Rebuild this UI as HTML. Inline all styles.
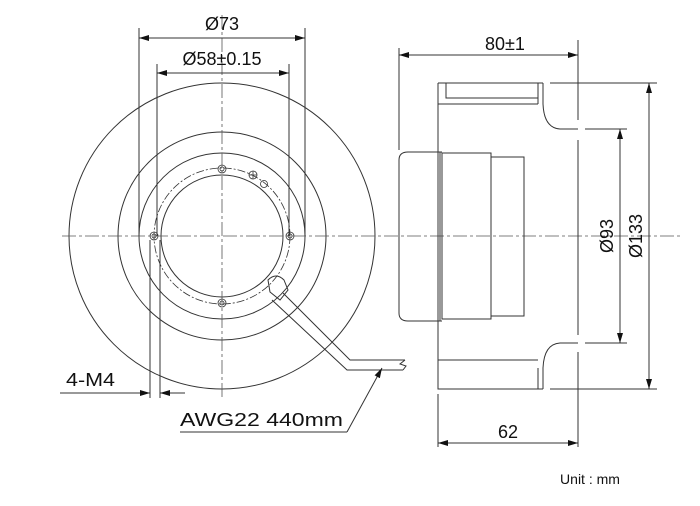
<!DOCTYPE html>
<html><head><meta charset="utf-8"><style>
html,body{margin:0;padding:0;background:#fff;}
svg{display:block;}
text{font-family:"Liberation Sans",sans-serif;fill:#111;}
</style></head><body>
<svg width="700" height="506" viewBox="0 0 700 506" xmlns="http://www.w3.org/2000/svg">
<defs>
<marker id="a" viewBox="0 0 10 6" refX="10" refY="3" markerWidth="10" markerHeight="6" orient="auto-start-reverse" markerUnits="userSpaceOnUse"><path d="M0,0 L10,3 L0,6 z" fill="#111"/></marker>
</defs>
<g fill="none" stroke="#333" stroke-width="1">
<circle cx="222" cy="236" r="153"/>
<circle cx="222" cy="236" r="104"/>
<circle cx="222" cy="236" r="83"/>
<circle cx="222" cy="236" r="68" stroke-dasharray="8,2,2,2" stroke-width="0.8"/>
<circle cx="222" cy="236" r="61"/>
<g stroke-width="0.8">
<circle cx="154" cy="236" r="4"/><circle cx="154" cy="236" r="2"/>
<circle cx="290" cy="236" r="4"/><circle cx="290" cy="236" r="2"/>
<circle cx="222" cy="169" r="4"/><circle cx="222" cy="169" r="2"/>
<circle cx="222" cy="303" r="4"/><circle cx="222" cy="303" r="2"/>
<circle cx="253" cy="175" r="4"/><circle cx="264" cy="184" r="3.5"/>
</g>
<path d="M253,171 V179 M249,175 H257" stroke-width="0.8"/>
<line x1="62" y1="236" x2="680" y2="236" stroke="#555" stroke-width="0.8" stroke-dasharray="14,3,3,3"/>
<line x1="222" y1="15" x2="222" y2="398" stroke="#555" stroke-width="0.8" stroke-dasharray="14,3,3,3"/>
<line x1="139" y1="28" x2="139" y2="236"/>
<line x1="305" y1="28" x2="305" y2="236"/>
<line x1="157" y1="64" x2="157" y2="236"/>
<line x1="289" y1="64" x2="289" y2="236"/>
<line x1="139" y1="38" x2="305" y2="38" marker-start="url(#a)" marker-end="url(#a)"/>
<line x1="157" y1="73" x2="289" y2="73" marker-start="url(#a)" marker-end="url(#a)"/>
<line x1="150" y1="240" x2="150" y2="398"/>
<line x1="160" y1="240" x2="160" y2="398"/>
<line x1="60" y1="393" x2="150" y2="393" marker-end="url(#a)"/>
<line x1="185" y1="393" x2="160" y2="393" marker-end="url(#a)"/>
<path d="M268,280 Q276,272 284,280 L288,290 L280,300 L270,292 Z"/>
<path d="M283,293 L350,360 L405,360 M272,300 L347,370 L403,370 M405,360 L400,364 L406,366 L403,370"/>
<path d="M347,432 L382,368" marker-end="url(#a)"/>
<line x1="180" y1="432" x2="347" y2="432"/>
<path d="M438,83 H543 M438,83 V389 H543 M438,104 H538 M446,83 V98 H538 V83"/>
<path d="M543,83 V104 Q544,128 560,129 H578 M538,83 V104"/>
<path d="M543,389 V368 Q544,344 560,343 H578 M538,389 V368 M438,360 H538"/>
<line x1="578" y1="40" x2="578" y2="120"/>
<line x1="578" y1="140" x2="578" y2="335"/>
<line x1="578" y1="352" x2="578" y2="447"/>
<line x1="438" y1="394" x2="438" y2="447"/>
<path d="M442,152 H408 Q399,152 399,160 V313 Q399,321 408,321 H442"/>
<line x1="440" y1="152" x2="440" y2="321"/>
<rect x="442" y="153" width="49" height="166"/>
<path d="M491,157 H524 V316 H491"/>
<line x1="399" y1="48" x2="399" y2="150"/>
<line x1="399" y1="55" x2="578" y2="55" marker-start="url(#a)" marker-end="url(#a)"/>
<line x1="550" y1="83" x2="657" y2="83"/>
<line x1="550" y1="389" x2="657" y2="389"/>
<line x1="585" y1="129" x2="627" y2="129"/>
<line x1="585" y1="343" x2="627" y2="343"/>
<line x1="649" y1="83" x2="649" y2="389" marker-start="url(#a)" marker-end="url(#a)"/>
<line x1="620" y1="129" x2="620" y2="343" marker-start="url(#a)" marker-end="url(#a)"/>
<line x1="438" y1="443" x2="578" y2="443" marker-start="url(#a)" marker-end="url(#a)"/>
</g>
<g font-size="18">
<text x="222" y="30" text-anchor="middle">Ø73</text>
<text x="222" y="65" text-anchor="middle">Ø58±0.15</text>
<text x="505" y="50" text-anchor="middle">80±1</text>
<text x="508" y="438" text-anchor="middle">62</text>
<text x="66" y="386" textLength="49" lengthAdjust="spacingAndGlyphs">4-M4</text>
<text x="180" y="426" textLength="163" lengthAdjust="spacingAndGlyphs">AWG22  440mm</text>
<text transform="translate(613,236) rotate(-90)" text-anchor="middle">Ø93</text>
<text transform="translate(642,236) rotate(-90)" text-anchor="middle">Ø133</text>
</g>
<text x="590" y="484" font-size="14" text-anchor="middle">Unit : mm</text>
</svg>
</body></html>
